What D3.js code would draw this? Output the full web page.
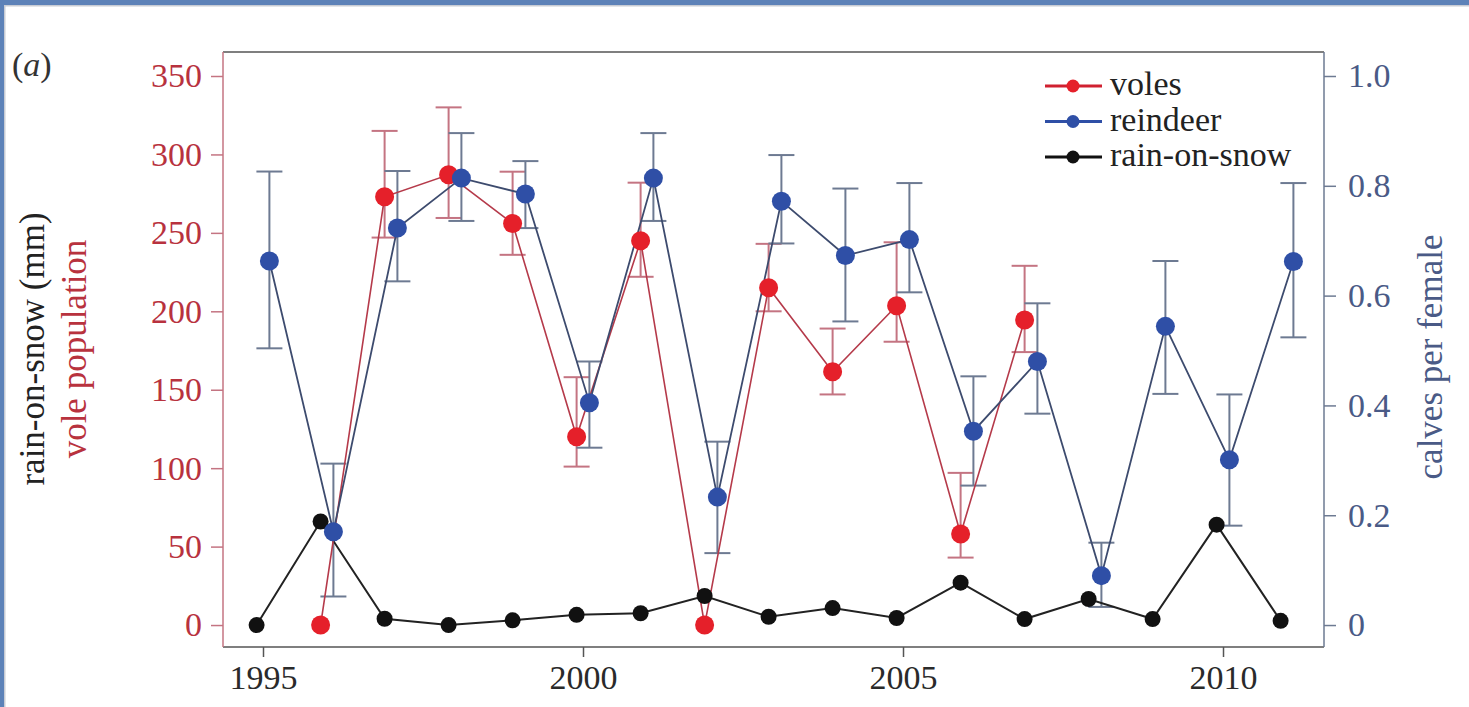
<!DOCTYPE html>
<html><head><meta charset="utf-8">
<script src="https://cdn.jsdelivr.net/npm/d3@7"></script>
<style>
html,body{margin:0;padding:0;background:#fff;}
</style></head>
<body><svg id="c" width="1469" height="707"></svg>
<script>
// ---- data ----
const years = [1995,1996,1997,1998,1999,2000,2001,2002,2003,2004,2005,2006,2007,2008,2009,2010,2011];
const rainOnSnow = [0,66,4,0,3,6.5,7.5,18.5,5.3,10.8,4.5,27,3.8,16.6,3.8,64,2.7];
const voleYears = [1996,1997,1998,1999,2000,2001,2002,2003,2004,2005,2006,2007];
const voles   = [0,273,287,256,120,245,0,215,161.5,203.5,58,194.5];
const volesHi = [null,315,330,289,158,282,null,243,189,244,97,229];
const volesLo = [null,247,259.5,236,101,222,null,200,147,180.6,43,174];
const reindeer   = [0.663,0.170,0.723,0.814,0.785,0.405,0.814,0.233,0.772,0.673,0.702,0.353,0.480,0.090,0.544,0.301,0.662];
const reindeerHi = [0.826,0.294,0.827,0.896,0.845,0.480,0.896,0.334,0.856,0.795,0.805,0.453,0.586,0.150,0.663,0.420,0.805];
const reindeerLo = [0.504,0.052,0.626,0.736,0.723,0.323,0.736,0.131,0.695,0.553,0.606,0.254,0.385,0.033,0.421,0.181,0.524];
const leftTicks = [0,50,100,150,200,250,300,350];
const rightTicks = [0,0.2,0.4,0.6,0.8,1.0];
const xTicks = [1995,2000,2005,2010];
const legendLabels = ["voles","reindeer","rain-on-snow"];

const FONT = "'Liberation Serif','Times New Roman',Times,'DejaVu Serif',serif";

// ---- colours ----
const C = {
  redPt:"#e5202a", redLine:"#b53a4a", redErr:"#c47482", redTxt:"#b8323e",
  bluePt:"#2f4fa6", blueLine:"#3d4b6e", blueErr:"#6d7a92", blueTxt:"#4a5a86",
  blackPt:"#111", blackLine:"#222"
};

const svg = d3.select("#c").attr("font-family", FONT);
// window frame decoration
svg.append("rect").attr("x",0).attr("y",0).attr("width",1469).attr("height",5).attr("fill","#5d82b8");
svg.append("rect").attr("x",0).attr("y",0).attr("width",4).attr("height",707).attr("fill","#5d82b8");
svg.append("rect").attr("x",4).attr("y",5).attr("width",1465).attr("height",1.5).attr("fill","#c8ccd4");
svg.append("rect").attr("x",4).attr("y",5).attr("width",1.5).attr("height",702).attr("fill","#c8ccd4");

const L=223, R=1324, T=52, B=647;
const x = d3.scaleLinear().domain([1994.375, 2011.578]).range([L,R]);
const yL = d3.scaleLinear().domain([-14, 365.3]).range([B,T]);
const yR = d3.scaleLinear().domain([-14/350, 365.3/350]).range([B,T]);
const dodge = 0.1;

function styleAxis(g, tickCol, txtCol){
  g.attr("font-family", FONT);
  g.select(".domain").remove();
  g.selectAll("line").attr("stroke",tickCol).attr("stroke-width",1.5);
  g.selectAll("text").attr("fill",txtCol).attr("font-size",34).attr("font-family",FONT);
}
const gL = svg.append("g").attr("transform",`translate(${L},0)`)
  .call(d3.axisLeft(yL).tickValues(leftTicks).tickSize(12).tickPadding(9).tickFormat(d3.format("d")));
styleAxis(gL, C.redErr, C.redTxt);

const gR = svg.append("g").attr("transform",`translate(${R},0)`)
  .call(d3.axisRight(yR).tickValues(rightTicks).tickSize(12).tickPadding(12).tickFormat(d=>d===0?"0":d3.format(".1f")(d)));
styleAxis(gR, C.blueErr, C.blueTxt);

const gB = svg.append("g").attr("transform",`translate(0,${B})`)
  .call(d3.axisBottom(x).tickValues(xTicks).tickSize(10).tickPadding(8).tickFormat(d3.format("d")));
styleAxis(gB, "#555", "#2a2a2a");

// box
svg.append("line").attr("x1",L).attr("x2",R).attr("y1",T).attr("y2",T).attr("stroke","#555").attr("stroke-width",1.5);
svg.append("line").attr("x1",L).attr("x2",R).attr("y1",B).attr("y2",B).attr("stroke","#555").attr("stroke-width",1.5);
svg.append("line").attr("x1",L).attr("x2",L).attr("y1",T).attr("y2",B).attr("stroke",C.redErr).attr("stroke-width",1.5);
svg.append("line").attr("x1",R).attr("x2",R).attr("y1",T).attr("y2",B).attr("stroke",C.blueErr).attr("stroke-width",1.5);

// axis titles
svg.append("text").attr("transform","translate(44,349) rotate(-90)").attr("text-anchor","middle")
  .attr("font-size",35).attr("fill","#222").text("rain-on-snow (mm)");
svg.append("text").attr("transform","translate(86,349) rotate(-90)").attr("text-anchor","middle")
  .attr("font-size",35).attr("fill",C.redTxt).text("vole population");
svg.append("text").attr("transform","translate(1442,357) rotate(-90)").attr("text-anchor","middle")
  .attr("font-size",35).attr("fill",C.blueTxt).text("calves per female");
const pa = svg.append("text").attr("x",12).attr("y",76).attr("font-size",34).attr("fill","#333");
pa.append("tspan").text("(");
pa.append("tspan").attr("font-style","italic").text("a");
pa.append("tspan").text(")");

const cap = 13;
function errBars(xs, hi, lo, ys, color){
  const g = svg.append("g").attr("stroke",color).attr("stroke-width",2).attr("fill","none");
  xs.forEach((xv,i)=>{
    if(hi[i]==null) return;
    const cx = x(xv), t = ys(hi[i]), b = ys(lo[i]);
    g.append("line").attr("x1",cx).attr("x2",cx).attr("y1",t).attr("y2",b);
    g.append("line").attr("x1",cx-cap).attr("x2",cx+cap).attr("y1",t).attr("y2",t);
    g.append("line").attr("x1",cx-cap).attr("x2",cx+cap).attr("y1",b).attr("y2",b);
  });
}
const vx = voleYears.map(d=>d-dodge), rx = years.map(d=>d+dodge), bx = years.map(d=>d-dodge);
errBars(vx, volesHi, volesLo, yL, C.redErr);
errBars(rx, reindeerHi, reindeerLo, yR, C.blueErr);

const line = d3.line();
svg.append("path").attr("d", line(bx.map((xv,i)=>[x(xv), yL(rainOnSnow[i])]))).attr("fill","none").attr("stroke",C.blackLine).attr("stroke-width",2);
svg.append("path").attr("d", line(vx.map((xv,i)=>[x(xv), yL(voles[i])]))).attr("fill","none").attr("stroke",C.redLine).attr("stroke-width",1.6);
svg.append("path").attr("d", line(rx.map((xv,i)=>[x(xv), yR(reindeer[i])]))).attr("fill","none").attr("stroke",C.blueLine).attr("stroke-width",1.8);

svg.append("g").selectAll("circle").data(rainOnSnow).join("circle")
  .attr("cx",(d,i)=>x(bx[i])).attr("cy",d=>yL(d)).attr("r",8).attr("fill",C.blackPt);
svg.append("g").selectAll("circle").data(voles).join("circle")
  .attr("cx",(d,i)=>x(vx[i])).attr("cy",d=>yL(d)).attr("r",9.5).attr("fill",C.redPt);
svg.append("g").selectAll("circle").data(reindeer).join("circle")
  .attr("cx",(d,i)=>x(rx[i])).attr("cy",d=>yR(d)).attr("r",9.5).attr("fill",C.bluePt);

// legend
const legColors = [[C.redPt,"#d02030"],[C.bluePt,"#2f4fa6"],[C.blackPt,"#111"]];
const lg = svg.append("g");
legendLabels.forEach((lab,i)=>{
  const yy = 86 + i*35.5;
  lg.append("line").attr("x1",1045).attr("x2",1102).attr("y1",yy).attr("y2",yy).attr("stroke",legColors[i][1]).attr("stroke-width",3);
  lg.append("circle").attr("cx",1073).attr("cy",yy).attr("r",6.5).attr("fill",legColors[i][0]);
  lg.append("text").attr("x",1110).attr("y",yy+9).attr("font-size",34).attr("fill","#222").text(lab);
});
</script></body></html>
